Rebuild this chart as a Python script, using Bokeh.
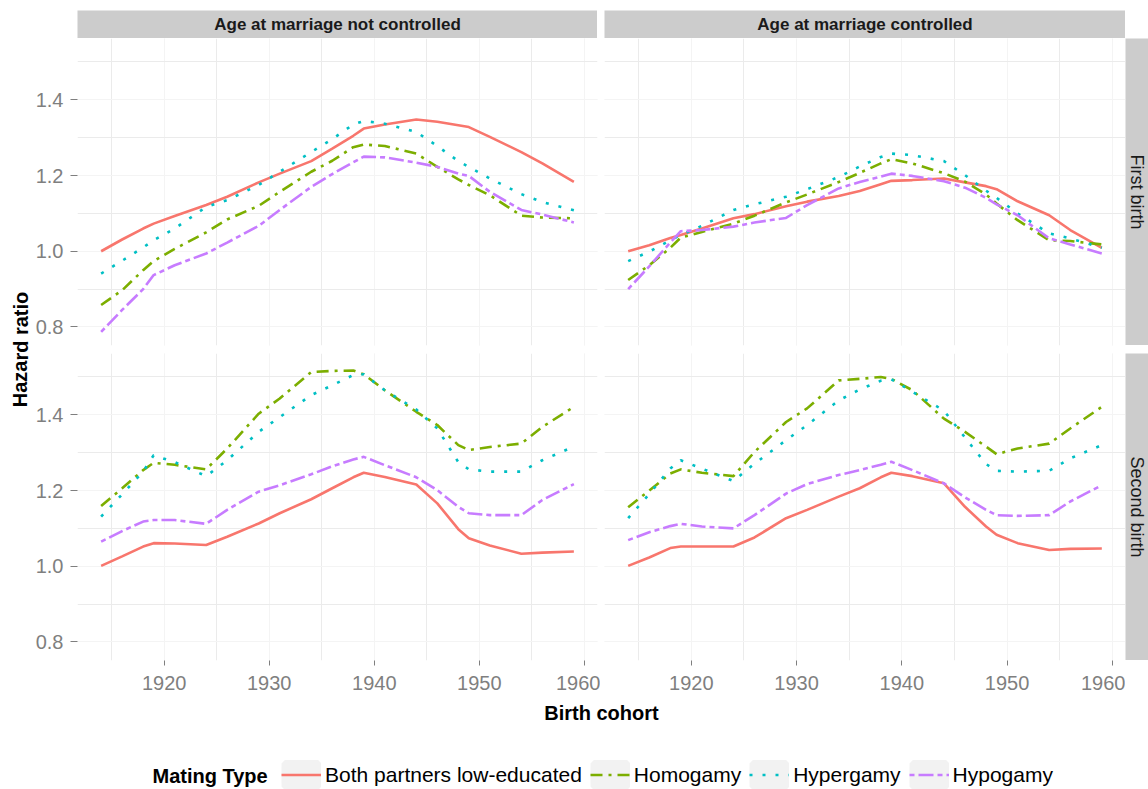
from bokeh.plotting import figure
from bokeh.models import (Range1d, SingleIntervalTicker, PrintfTickFormatter, Label,
                          Legend, LegendItem, Spacer)
from bokeh.layouts import column, row
from bokeh.embed import file_html
from bokeh.resources import INLINE
from bokeh.core.validation import silence
from bokeh.core.validation.warnings import MISSING_RENDERERS

silence(MISSING_RENDERERS, True)

# ---------------- data ----------------
YEARS = [1914, 1916, 1918, 1919, 1921, 1924, 1926, 1929, 1931, 1934, 1936,
         1938, 1939, 1941, 1944, 1946, 1948, 1949, 1951, 1954, 1956, 1959]

SERIES = ["Both partners low-educated", "Homogamy", "Hypergamy", "Hypogamy"]
COLS = ["Age at marriage not controlled", "Age at marriage controlled"]
ROWS = ["First birth", "Second birth"]

# Age at marriage not controlled - First birth
nc_first_both  = [1.000, 1.031, 1.060, 1.073, 1.093, 1.122, 1.144, 1.182, 1.205, 1.238, 1.271, 1.305, 1.324, 1.335, 1.348, 1.342, 1.333, 1.328, 1.302, 1.262, 1.232, 1.183]
nc_first_homo  = [0.858, 0.897, 0.950, 0.974, 1.006, 1.050, 1.084, 1.120, 1.157, 1.210, 1.239, 1.275, 1.282, 1.278, 1.258, 1.223, 1.190, 1.175, 1.148, 1.094, 1.089, 1.087]
nc_first_hyper = [0.941, 0.975, 1.010, 1.029, 1.060, 1.117, 1.135, 1.175, 1.210, 1.262, 1.296, 1.335, 1.344, 1.337, 1.315, 1.278, 1.238, 1.223, 1.192, 1.151, 1.130, 1.108]
nc_first_hypo  = [0.787, 0.845, 0.900, 0.937, 0.963, 0.994, 1.023, 1.067, 1.109, 1.170, 1.204, 1.235, 1.250, 1.248, 1.234, 1.223, 1.205, 1.199, 1.157, 1.109, 1.097, 1.076]

# Age at marriage controlled - First birth
c_first_both  = [1.000, 1.016, 1.035, 1.043, 1.060, 1.087, 1.098, 1.119, 1.131, 1.146, 1.159, 1.177, 1.186, 1.188, 1.192, 1.182, 1.172, 1.164, 1.132, 1.095, 1.056, 1.009]
c_first_homo  = [0.924, 0.963, 1.009, 1.036, 1.051, 1.073, 1.094, 1.129, 1.150, 1.183, 1.207, 1.232, 1.243, 1.232, 1.206, 1.184, 1.150, 1.126, 1.082, 1.029, 1.027, 1.018]
c_first_hyper = [0.974, 0.999, 1.029, 1.043, 1.067, 1.109, 1.124, 1.144, 1.164, 1.196, 1.224, 1.249, 1.258, 1.254, 1.238, 1.201, 1.160, 1.141, 1.100, 1.047, 1.034, 1.009]
c_first_hypo  = [0.900, 0.960, 1.023, 1.053, 1.056, 1.065, 1.076, 1.088, 1.122, 1.166, 1.183, 1.197, 1.205, 1.199, 1.185, 1.168, 1.141, 1.124, 1.095, 1.034, 1.018, 0.994]

# Age at marriage not controlled - Second birth
nc_second_both  = [1.001, 1.026, 1.052, 1.061, 1.060, 1.056, 1.078, 1.113, 1.140, 1.177, 1.206, 1.235, 1.247, 1.236, 1.216, 1.166, 1.098, 1.074, 1.055, 1.033, 1.036, 1.039]
nc_second_homo  = [1.159, 1.206, 1.254, 1.273, 1.268, 1.256, 1.311, 1.403, 1.443, 1.513, 1.516, 1.517, 1.507, 1.465, 1.408, 1.373, 1.320, 1.307, 1.315, 1.324, 1.368, 1.421]
nc_second_hyper = [1.131, 1.190, 1.250, 1.293, 1.275, 1.238, 1.280, 1.355, 1.394, 1.452, 1.478, 1.505, 1.507, 1.465, 1.414, 1.364, 1.275, 1.256, 1.250, 1.250, 1.280, 1.316]
nc_second_hypo  = [1.065, 1.093, 1.118, 1.122, 1.122, 1.112, 1.149, 1.197, 1.214, 1.243, 1.264, 1.282, 1.289, 1.267, 1.235, 1.201, 1.157, 1.140, 1.135, 1.135, 1.175, 1.217]

# Age at marriage controlled - Second birth
c_second_both  = [1.001, 1.023, 1.048, 1.052, 1.052, 1.052, 1.076, 1.127, 1.149, 1.184, 1.206, 1.235, 1.247, 1.238, 1.219, 1.157, 1.105, 1.083, 1.061, 1.043, 1.046, 1.047]
c_second_homo  = [1.156, 1.200, 1.245, 1.256, 1.247, 1.238, 1.302, 1.381, 1.417, 1.491, 1.495, 1.500, 1.495, 1.465, 1.390, 1.355, 1.316, 1.296, 1.311, 1.324, 1.364, 1.421]
c_second_hyper = [1.127, 1.191, 1.258, 1.280, 1.258, 1.225, 1.271, 1.333, 1.373, 1.438, 1.467, 1.490, 1.494, 1.461, 1.411, 1.340, 1.270, 1.252, 1.250, 1.252, 1.285, 1.320]
c_second_hypo  = [1.069, 1.090, 1.106, 1.112, 1.105, 1.100, 1.135, 1.192, 1.217, 1.241, 1.254, 1.268, 1.276, 1.254, 1.219, 1.182, 1.149, 1.135, 1.133, 1.135, 1.171, 1.214]

# ---------------- styles ----------------
COLORS = ["#F8766D", "#7CAE00", "#00BFC4", "#C77CFF"]
DASHES = ["solid", "12 6 3 6", "3 10", "5 4 15 4"]
LW = 2.6
FONT = "Liberation Sans"
GRID_MAJOR = "#F4F4F4"
GRID_MINOR = "#EBEBEB"
TICK_GREY = "#7F7F7F"
STRIP = "#CCCCCC"

XR = Range1d(1911.75, 1961.25)
YR = Range1d(0.751, 1.562)
xt = SingleIntervalTicker(interval=10, num_minor_ticks=2)
yt = SingleIntervalTicker(interval=0.2, num_minor_ticks=2)

AXIS_H = 38  # space below the bottom panels for tick marks and labels


def panel(data, width, height, left, right, top, bottom, show_x, show_y):
    p = figure(width=width, height=height, x_range=XR, y_range=YR,
               output_backend="svg", toolbar_location=None,
               x_axis_location="below" if show_x else None,
               y_axis_location="left" if show_y else None,
               min_border_left=left, min_border_right=right,
               min_border_top=top, min_border_bottom=bottom)
    p.outline_line_color = None
    p.background_fill_color = "white"
    p.border_fill_color = "white"
    p.xgrid.ticker = xt
    p.ygrid.ticker = yt
    for g in (p.xgrid, p.ygrid):
        g.grid_line_color = GRID_MAJOR
        g.grid_line_width = 1
        g.minor_grid_line_color = GRID_MINOR
        g.minor_grid_line_width = 1
    if show_x:
        ax = p.xaxis[0]
        ax.ticker = xt
        ax.axis_line_color = None
        ax.major_tick_line_color = TICK_GREY
        ax.major_tick_in = 0
        ax.major_tick_out = 5
        ax.minor_tick_line_color = None
        ax.major_label_text_font = FONT
        ax.major_label_text_font_size = "20px"
        ax.major_label_text_color = TICK_GREY
        ax.major_label_standoff = 10
    if show_y:
        ax = p.yaxis[0]
        ax.ticker = yt
        ax.formatter = PrintfTickFormatter(format="%.1f")
        ax.axis_line_color = None
        ax.major_tick_line_color = TICK_GREY
        ax.major_tick_in = 0
        ax.major_tick_out = 7
        ax.minor_tick_line_color = None
        ax.major_label_text_font = FONT
        ax.major_label_text_font_size = "20px"
        ax.major_label_text_color = TICK_GREY
        ax.major_label_standoff = 7
    for vals, c, d in zip(data, COLORS, DASHES):
        p.line(YEARS, vals, line_color=c, line_width=LW, line_dash=d)
    return p


def text_box(w, h, text, angle=0.0, bg="white", style="normal", size="17px",
             color="#1A1A1A", x=None, y=None):
    s = figure(width=w, height=h, output_backend="svg", toolbar_location=None,
               x_axis_location=None, y_axis_location=None, min_border=0,
               x_range=(0, 1), y_range=(0, 1))
    s.outline_line_color = None
    s.background_fill_color = bg
    s.border_fill_color = bg
    s.xgrid.visible = False
    s.ygrid.visible = False
    s.add_layout(Label(x=w / 2 if x is None else x, y=h / 2 if y is None else y,
                       x_units="screen", y_units="screen", text=text, angle=angle,
                       text_align="center", text_baseline="middle",
                       text_font=FONT, text_font_size=size, text_font_style=style,
                       text_color=color))
    return s


# panels  (frames: left 77..597, right 604..1125; top rows 38..345, bottom 353..660)
tl = panel([nc_first_both, nc_first_homo, nc_first_hyper, nc_first_hypo],
           568, 311, 45, 3, 0, 4, False, True)
tr = panel([c_first_both, c_first_homo, c_first_hyper, c_first_hypo],
           525, 311, 4, 0, 0, 4, False, False)
bl = panel([nc_second_both, nc_second_homo, nc_second_hyper, nc_second_hypo],
           568, 311 + AXIS_H, 45, 3, 4, AXIS_H, True, True)
br = panel([c_second_both, c_second_homo, c_second_hyper, c_second_hypo],
           525, 311 + AXIS_H, 4, 0, 4, AXIS_H, True, False)

# strips
strip_tl = text_box(520, 28, COLS[0], bg=STRIP, style="bold", size="17px")
strip_tr = text_box(521, 28, COLS[1], bg=STRIP, style="bold", size="17px")
strip_r1 = text_box(23, 307, ROWS[0], angle=-1.5707963, bg=STRIP, size="18px")
strip_r2 = text_box(23, 307, ROWS[1], angle=-1.5707963, bg=STRIP, size="18px")

MAIN_H = 311 + 311 + AXIS_H
ylab = text_box(32, MAIN_H, "Hazard ratio", angle=1.5707963, style="bold", size="20px",
                color="black", x=20, y=MAIN_H - 311)

# bottom: x-axis title + legend
BH = 789 - 38 - MAIN_H
bf = figure(width=1148, height=BH, output_backend="svg", toolbar_location=None,
            x_axis_location=None, y_axis_location=None, min_border=0,
            x_range=(0, 1), y_range=(0, 1))
bf.outline_line_color = None
bf.xgrid.visible = False
bf.ygrid.visible = False
bf.add_layout(Label(x=601, y=BH - 14, x_units="screen", y_units="screen", text="Birth cohort",
                    text_align="center", text_baseline="middle", text_font=FONT,
                    text_font_size="20px", text_font_style="bold", text_color="black"))
bf.add_layout(Label(x=152, y=14, x_units="screen", y_units="screen", text="Mating Type",
                    text_align="left", text_baseline="middle", text_font=FONT,
                    text_font_size="20px", text_font_style="bold", text_color="black"))
items = []
for name, c, d in zip(SERIES, COLORS, DASHES):
    bg = bf.rect(x=[-10], y=[-10], width=1, height=1, fill_color="#F2F2F2",
                 line_color="#F2F2F2", line_width=8)
    ln = bf.line(x=[-10, -9], y=[-10, -10], line_color=c, line_width=LW, line_dash=d)
    items.append(LegendItem(label=name, renderers=[bg, ln]))
legend = Legend(items=items, orientation="horizontal", location=(281, 0),
                padding=0, margin=0, border_line_color=None, background_fill_alpha=0,
                glyph_width=40, glyph_height=29, label_height=29, label_standoff=4,
                spacing=8, label_text_font=FONT, label_text_font_size="21px",
                label_text_color="black")
bf.add_layout(legend, "center")

layout = column(
    Spacer(width=1148, height=10),
    row(Spacer(width=77, height=28), strip_tl, Spacer(width=7, height=28), strip_tr,
        Spacer(width=23, height=28)),
    row(ylab,
        column(row(tl, tr, column(strip_r1, Spacer(width=23, height=4))),
               row(bl, br, column(Spacer(width=23, height=4), strip_r2,
                                  Spacer(width=23, height=AXIS_H))))),
    bf,
)

open("out.html", "w").write(file_html(layout, INLINE))
